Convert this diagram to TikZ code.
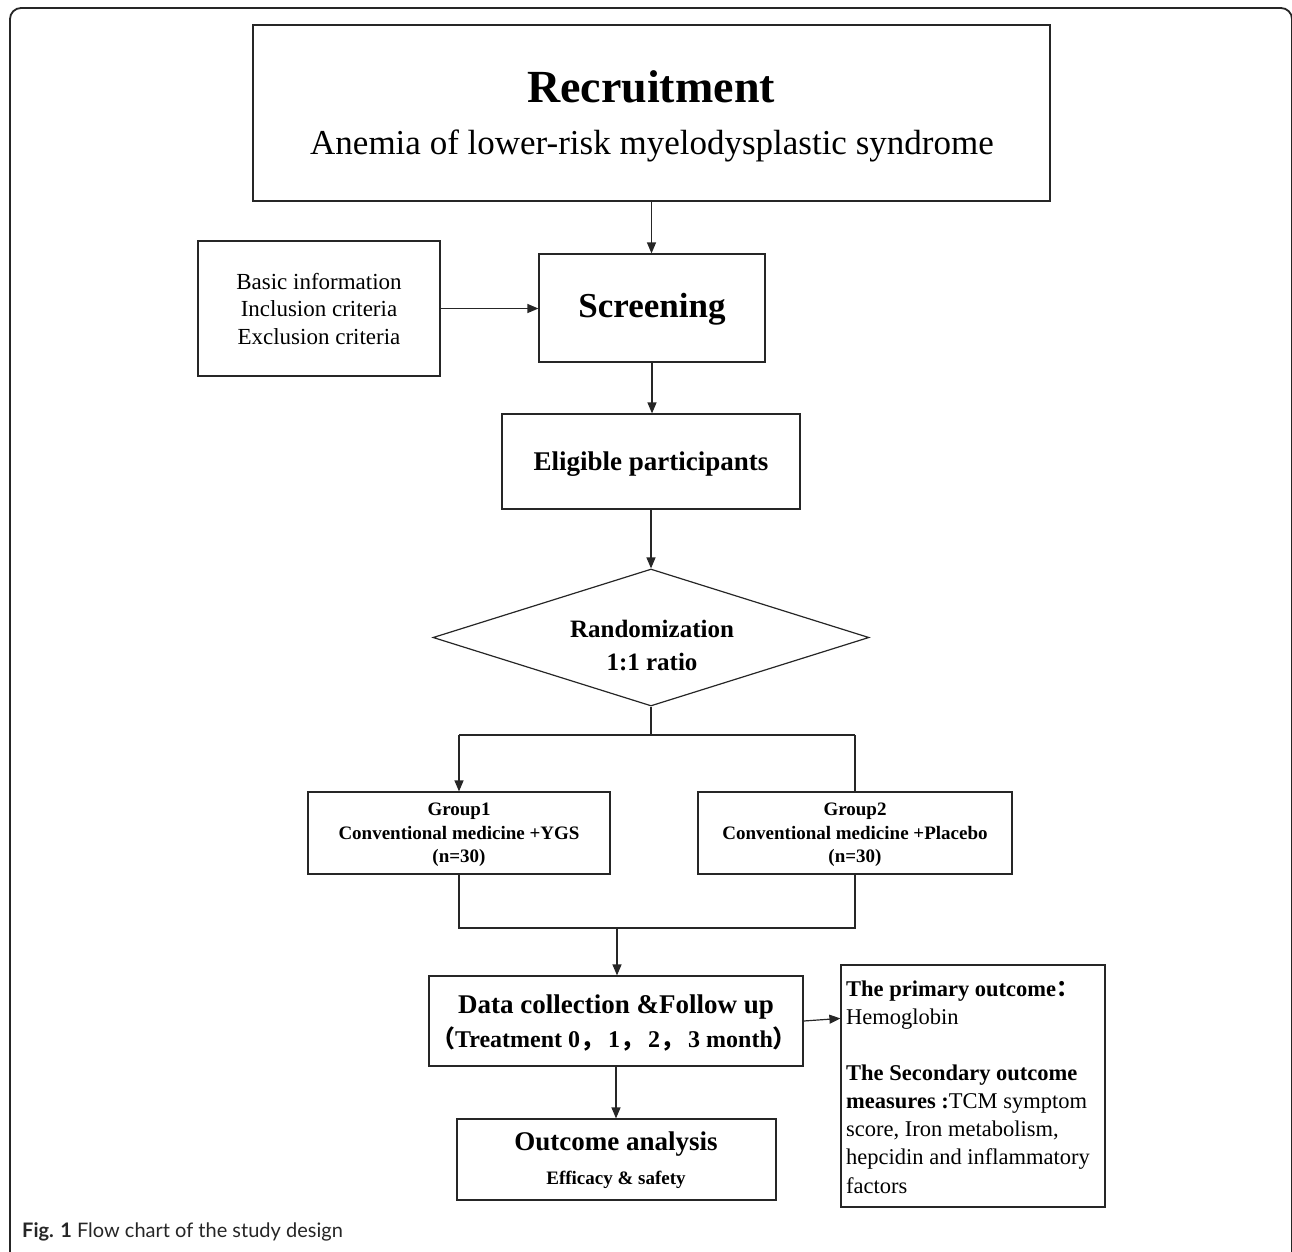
\documentclass[tikz,border=0pt]{standalone}
\usepackage{fontspec}
\setmainfont{Liberation Serif}
\newfontfamily\cjk{Noto Sans CJK SC}
\newfontfamily\capfont{Lato}
\usetikzlibrary{arrows.meta,shapes.geometric}
\begin{document}
\begin{tikzpicture}[x=1pt,y=-1pt,
  box/.style={draw=black!85, line width=1.2pt, inner sep=0pt, rectangle},
  txt/.style={inner sep=0pt, align=center, text=black},
  arr/.style={draw=black!85, line width=1.2pt, -{Triangle[length=11pt,width=9pt]}},
  ln/.style={draw=black!85, line width=1.2pt}]
\useasboundingbox (0,0) rectangle (1292,1251);
\draw[line width=1.8pt, draw=black!85, rounded corners=11pt] (10,8) rectangle (1292,1275);
% boxes
\node[box, minimum width=797pt, minimum height=176pt] (rec) at (651.5,113) {};
\node[box, minimum width=226pt, minimum height=108pt] (scr) at (652,308) {};
\node[box, minimum width=242pt, minimum height=135pt] (bas) at (319,308.5) {};
\node[box, minimum width=298pt, minimum height=95pt] (eli) at (651,461.5) {};
\node[draw=black!85, line width=1.2pt, diamond, inner sep=0pt, minimum width=436pt, minimum height=137pt] (dia) at (651,637.5) {};
\node[box, minimum width=302pt, minimum height=82pt] (g1) at (459,833) {};
\node[box, minimum width=314pt, minimum height=82pt] (g2) at (855,833) {};
\node[box, minimum width=374pt, minimum height=90pt] (dat) at (616,1021) {};
\node[box, minimum width=319pt, minimum height=81pt] (out) at (616.5,1159.5) {};
\node[box, minimum width=264pt, minimum height=242pt] (res) at (973,1086) {};
% texts
\node[txt, font=\fontsize{46}{50}\selectfont\bfseries] (t1) at (651,87) {Recruitment};
\node[txt, font=\fontsize{35}{40}\selectfont] (t2) at (652,146) {Anemia of lower-risk myelodysplastic syndrome};
\node[txt, font=\fontsize{35}{40}\selectfont\bfseries] (t3) at (652,309) {Screening};
\node[txt, font=\fontsize{23}{27.5}\selectfont] (t4) at (319,309) {Basic information\\Inclusion criteria\\Exclusion criteria};
\node[txt, font=\fontsize{27}{30}\selectfont\bfseries] (t5) at (651,464) {Eligible participants};
\node[txt, font=\fontsize{25}{33}\selectfont\bfseries] (t6) at (652,645) {Randomization\\1:1 ratio};
\node[txt, font=\fontsize{19}{23.5}\selectfont\bfseries] (t7) at (459,835) {Group1\\Conventional medicine +YGS\\(n=30)};
\node[txt, font=\fontsize{19}{23.5}\selectfont\bfseries] (t8) at (855,835) {Group2\\Conventional medicine +Placebo\\(n=30)};
\node[txt, font=\fontsize{27}{30}\selectfont\bfseries] (t9) at (616,1007) {Data collection \&Follow up};
\node[txt, font=\fontsize{24}{27}\selectfont\bfseries] (t10) at (614,1039) {{\cjk （}Treatment 0{\cjk ，}\,1{\cjk ，}\,2{\cjk ，}\,3 month{\cjk ）}};
\node[txt, font=\fontsize{27}{30}\selectfont\bfseries] (t11) at (616,1144) {Outcome analysis};
\node[txt, font=\fontsize{19}{22}\selectfont\bfseries] (t12) at (616,1180) {Efficacy \& safety};
\node[inner sep=0pt, align=left, anchor=west, font=\fontsize{22.5}{28.1}\selectfont] (t13) at (846,1087)
  {\textbf{The primary outcome}{\cjk\bfseries ：}\\Hemoglobin\\[28.1pt]\textbf{The Secondary outcome}\\\textbf{measures :}TCM symptom\\score, Iron metabolism,\\hepcidin and inflammatory\\factors};
\node[inner sep=0pt, anchor=west, text=black!85, font=\capfont\fontsize{20}{24}\selectfont] (cap) at (22,1232)
  {\textbf{Fig. 1} Flow chart of the study design};
% connectors
\draw[arr] (rec.south) -- (rec.south |- scr.north);
\draw[arr] (bas.east) -- (bas.east -| scr.west);
\draw[arr] (scr.south) -- (scr.south |- eli.north);
\draw[arr] (eli.south) -- (dia.north);
\coordinate (sp) at (651,735);
\coordinate (mg) at (617,928);
\draw[ln] (dia.south) -- (sp);
\draw[ln] (g1.north |- sp) -- (g2.north |- sp);
\draw[arr] (g1.north |- sp) -- (g1.north);
\draw[ln] (g2.north |- sp) -- (g2.north);
\draw[ln] (g1.south) -- (g1.south |- mg) -- (g2.south |- mg) -- (g2.south);
\draw[arr] (mg) -- (mg |- dat.north);
\draw[arr] (dat.east) -- ([yshift=-54pt]res.north west);
\draw[arr] (dat.south) -- (dat.south |- out.north);
\end{tikzpicture}
\end{document}
